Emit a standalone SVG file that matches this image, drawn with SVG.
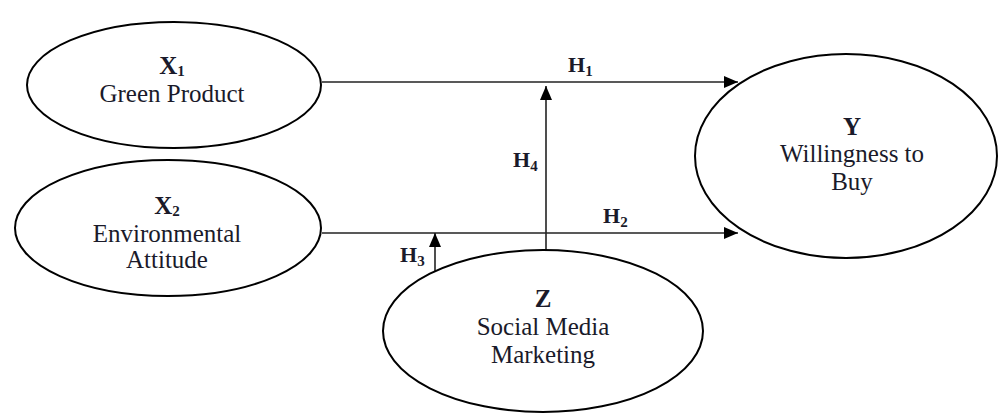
<svg xmlns="http://www.w3.org/2000/svg" width="999" height="414" viewBox="0 0 999 414">
<style>
.node{fill:#fff;stroke:#000;stroke-width:2}
.t{font-family:'Liberation Serif',serif;font-size:25px;fill:#1a1a2a;text-anchor:middle}
.b{font-weight:bold}
.sub{font-size:15px}
.h{font-family:'Liberation Serif',serif;font-size:22px;font-weight:bold;fill:#1a1a2a}
.c{stroke:#222;stroke-width:1.6;fill:none}
</style>
<defs>
<marker id="ah" viewBox="0 0 14 12" refX="14" refY="6" markerWidth="14" markerHeight="12" markerUnits="userSpaceOnUse" orient="auto">
<path d="M0,0 L14,6 L0,12 Z" fill="#000"/>
</marker>
</defs>
<g id="connectors">
<line class="c" x1="322" y1="82" x2="738" y2="82" marker-end="url(#ah)"/>
<line class="c" x1="322" y1="233" x2="738" y2="233" marker-end="url(#ah)"/>
<line class="c" x1="546" y1="250" x2="546" y2="86" marker-end="url(#ah)"/>
<line class="c" x1="435" y1="272" x2="435" y2="233" marker-end="url(#ah)"/>
<text class="h" x="568" y="72">H<tspan class="sub" dy="4">1</tspan></text>
<text class="h" x="603" y="223">H<tspan class="sub" dy="4">2</tspan></text>
<text class="h" x="400" y="262">H<tspan class="sub" dy="4">3</tspan></text>
<text class="h" x="513" y="167">H<tspan class="sub" dy="4">4</tspan></text>
</g>
<g id="X1">
<ellipse class="node" cx="174" cy="85" rx="147" ry="63"/>
<text class="t" x="172" y="74"><tspan class="b">X</tspan><tspan class="b sub" dy="2">1</tspan></text>
<text class="t" x="172" y="102">Green Product</text>
</g>
<g id="X2">
<ellipse class="node" cx="168" cy="228" rx="153" ry="68"/>
<text class="t" x="167" y="214"><tspan class="b">X</tspan><tspan class="b sub" dy="2">2</tspan></text>
<text class="t" x="167" y="242">Environmental</text>
<text class="t" x="167" y="268">Attitude</text>
</g>
<g id="Y">
<ellipse class="node" cx="846" cy="156" rx="151" ry="102"/>
<text class="t b" x="852" y="135">Y</text>
<text class="t" x="852" y="162">Willingness to</text>
<text class="t" x="852" y="190">Buy</text>
</g>
<g id="Z">
<ellipse class="node" cx="543" cy="331" rx="160" ry="81"/>
<text class="t b" x="543" y="307">Z</text>
<text class="t" x="543" y="335">Social Media</text>
<text class="t" x="543" y="363">Marketing</text>
</g>
</svg>
